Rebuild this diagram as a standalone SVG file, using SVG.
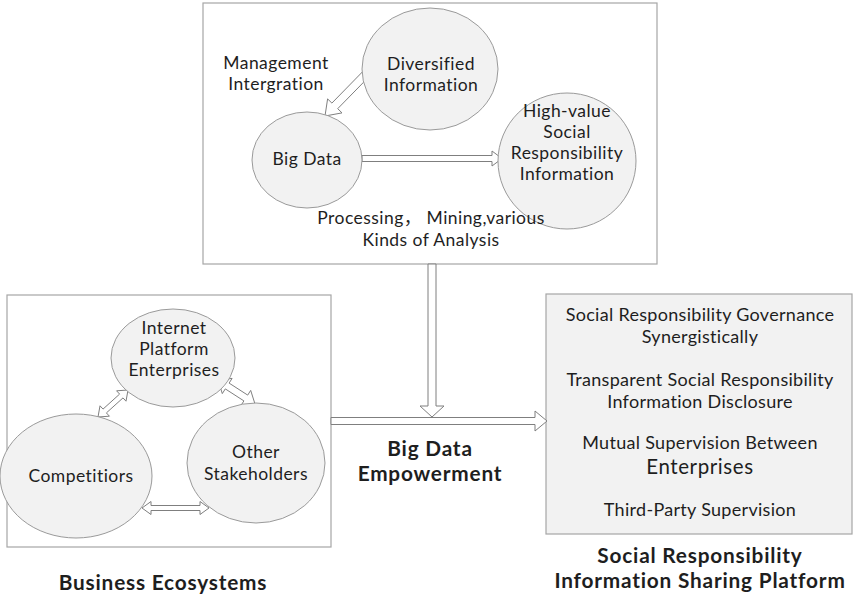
<svg xmlns="http://www.w3.org/2000/svg" width="855" height="598" viewBox="0 0 855 598">
  <style>
    .frame { fill: #ffffff; stroke: #a6a6a6; stroke-width: 1.2; }
    .panel { fill: #f2f2f2; stroke: #a6a6a6; stroke-width: 1.2; }
    .node { fill: #f2f2f2; stroke: #9a9a9a; stroke-width: 1; }
    .arrow { fill: #ffffff; stroke: #7f7f7f; stroke-width: 1; stroke-linejoin: miter; }
    text { font-family: Lato, "Noto Sans CJK SC", sans-serif; fill: #1e1e1e; text-anchor: middle;
           font-variant-ligatures: none; font-feature-settings: "liga" 0, "clig" 0; }
    .t { font-size: 17.5px; letter-spacing: 0.45px; }
    .r { font-size: 18px; letter-spacing: 0.3px; }
    .big { font-size: 20.5px; letter-spacing: 0.6px; }
    .b { font-size: 20.8px; font-weight: bold; letter-spacing: 0.8px; }
  </style>

  <!-- containers -->
  <g id="analysis-box"><rect class="frame" x="203" y="3" width="454" height="261"/></g>
  <g id="ecosystem-box"><rect class="frame" x="7" y="295" width="324" height="252"/></g>
  <g id="platform-box"><rect class="panel" x="546" y="294" width="306" height="240"/></g>

  <!-- connectors -->
  <g id="connectors">
    <!-- Diversified Information -> Big Data -->
    <polygon class="arrow" points="368.9,76.8 337.7,108.7 342,112.9 325,116 327.6,98.9 331.9,103.1 363.1,71.2"/>
    <!-- Big Data -> High-value information -->
    <polygon class="arrow" points="362,155.5 492,155.5 492,151 502,158.5 492,166 492,161.5 362,161.5"/>
    <!-- ecosystem -> platform -->
    <polygon class="arrow" points="331,417.5 535,417.5 535,411 547,421 535,431 535,424.5 331,424.5"/>
    <!-- analysis -> empowerment -->
    <polygon class="arrow" points="428,264 436,264 436,406 444,406 432,417 420,406 428,406"/>
    <!-- Competitors <-> Internet platform -->
    <polygon class="arrow" points="98,417 109.4,416.2 106.4,412.9 123,397.9 126,401.2 128,390 116.6,390.8 119.6,394.1 103,409.1 100,405.8"/>
    <!-- Internet platform <-> Other stakeholders -->
    <polygon class="arrow" points="218,380 222.3,393.6 225.3,388.9 243.9,400.9 240.9,405.6 255,404 250.7,390.4 247.7,395.1 229.1,383.1 232.1,378.4"/>
    <!-- Competitors <-> Other stakeholders -->
    <polygon class="arrow" points="142,508 151,501.5 151,505.5 200,505.5 200,501.5 209,508 200,514.5 200,510.5 151,510.5 151,514.5"/>
  </g>

  <!-- big data processing -->
  <g id="management-label">
    <text class="t" x="276" y="69">Management</text>
    <text class="t" x="276" y="90">Intergration</text>
  </g>
  <g id="diversified-information">
    <ellipse class="node" cx="430" cy="69" rx="68" ry="61"/>
    <text class="t" x="431" y="70">Diversified</text>
    <text class="t" x="431" y="91">Information</text>
  </g>
  <g id="big-data">
    <ellipse class="node" cx="307" cy="160" rx="55" ry="48"/>
    <text class="t" x="307" y="165">Big Data</text>
  </g>
  <g id="high-value-information">
    <ellipse class="node" cx="567" cy="161" rx="69" ry="68"/>
    <text class="t" x="567" y="117">High-value</text>
    <text class="t" x="567" y="138">Social</text>
    <text class="t" x="567" y="159">Responsibility</text>
    <text class="t" x="567" y="180">Information</text>
  </g>
  <g id="processing-label">
    <text class="t" x="431" y="224">Processing， Mining,various</text>
    <text class="t" x="431" y="246">Kinds of Analysis</text>
  </g>

  <!-- business ecosystem -->
  <g id="internet-platform">
    <ellipse class="node" cx="173" cy="358" rx="62" ry="49"/>
    <text class="t" x="174" y="334">Internet</text>
    <text class="t" x="174" y="355">Platform</text>
    <text class="t" x="174" y="376">Enterprises</text>
  </g>
  <g id="competitors">
    <ellipse class="node" cx="76" cy="476" rx="76" ry="62"/>
    <text class="t" x="81" y="482">Competitiors</text>
  </g>
  <g id="other-stakeholders">
    <ellipse class="node" cx="256" cy="463" rx="69" ry="60"/>
    <text class="t" x="256" y="458">Other</text>
    <text class="t" x="256" y="480">Stakeholders</text>
  </g>

  <!-- sharing platform functions -->
  <g id="platform-functions">
    <text class="r" x="700" y="321">Social Responsibility Governance</text>
    <text class="r" x="700" y="343">Synergistically</text>
    <text class="r" x="700" y="386">Transparent Social Responsibility</text>
    <text class="r" x="700" y="408">Information Disclosure</text>
    <text class="r" x="700" y="449">Mutual Supervision Between</text>
    <text class="big" x="700" y="473.5">Enterprises</text>
    <text class="r" x="700" y="516">Third-Party Supervision</text>
  </g>

  <!-- titles -->
  <g id="empowerment-title">
    <text class="b" x="430" y="456">Big Data</text>
    <text class="b" x="430" y="481">Empowerment</text>
  </g>
  <g id="platform-title">
    <text class="b" x="700" y="563">Social Responsibility</text>
    <text class="b" x="700" y="588">Information Sharing Platform</text>
  </g>
  <g id="ecosystem-title">
    <text class="b" x="163" y="590">Business Ecosystems</text>
  </g>
</svg>
